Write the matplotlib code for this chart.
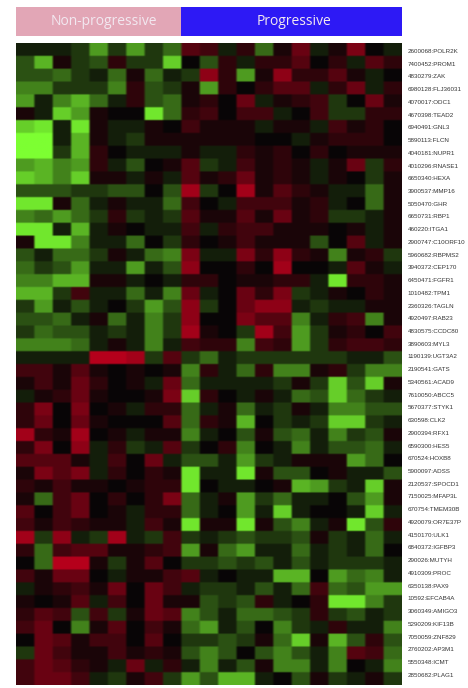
import matplotlib
matplotlib.use("Agg")
import matplotlib.pyplot as plt
import numpy as np
from matplotlib.colors import LinearSegmentedColormap

group_names = ["Non-progressive", "Progressive"]
group_sizes = [9, 12]
group_colors = ["#E2A6B6", "#2D19F5"]

gene_labels = [
    "2600068:POLR2K", "7400452:PROM1", "4830279:ZAK", "6980128:FLJ36031", "4070017:ODC1",
    "4670398:TEAD2", "6940491:GNL3", "5890113:FLCN", "4040181:NUPR1", "4010296:RNASE1",
    "6650340:HEXA", "3900537:MMP16", "5050470:GHR", "6650731:RBP1", "460220:ITGA1",
    "2900747:C10ORF10", "5960682:RBPMS2", "3940372:CEP170", "6450471:FGFR1", "1010482:TPM1",
    "2360326:TAGLN", "4920497:RAB23", "4830575:CCDC80", "3890603:MYL3", "1190139:UGT3A2",
    "2190541:GATS", "5340561:ACAD9", "7610050:ABCC5", "5670377:STYK1", "630598:CLK2",
    "2900394:RFX1", "6590300:HES5", "670524:HOXB8", "5900097:ADSS", "2120537:SPOCD1",
    "7150025:MFAP3L", "670754:TMEM30B", "4920079:OR7E37P", "4150170:ULK1", "6840372:IGFBP3",
    "290026:MUTYH", "4910309:PROC", "6350138:PAX9", "10592:EFCAB4A", "3060349:AMIGO3",
    "5290209:KIF13B", "7050059:ZNF829", "2760202:AP3M1", "5550348:ICMT", "2850682:PLAG1",
]

# Expression: negative = green, positive = red, one row per gene
expression = [
    [-1,-1,-1,-2,-6,-2,-6,-2,-4, 4,3,-1,2,-4,1,5,-1,1,6,0,-1],
    [-3,-7,1,-2,-3,2,-2,-2,-8, 0,-3,2,-1,2,2,4,0,2,-1,4,2],
    [-3,-3,-4,-2,-1,-4,1,-4,-1, -2,7,2,-6,1,7,2,2,4,1,-1,0],
    [-5,-5,-2,-2,-2,-5,2,-3,-2, 1,-6,2,0,2,4,4,-1,2,5,-1,2],
    [-6,-1,-5,-7,-4,-1,2,-3,-4, 1,2,0,5,-1,1,2,3,-2,0,5,1],
    [1,-1,-8,-6,1,0,0,-9,-4, 2,3,0,3,3,-1,0,3,-2,-2,2,2],
    [-8,-9,-1,-9,1,-1,-1,1,0, 3,1,1,1,-1,1,1,-1,3,1,2,0],
    [-10,-10,-1,-7,1,-1,-2,1,1, 1,1,1,1,0,0,-1,1,2,2,2,0],
    [-10,-10,-2,-7,2,0,-1,-1,-1, 1,-1,-1,2,1,2,0,2,0,1,1,1],
    [-6,-7,-5,-6,2,-1,-3,0,1, 4,-2,-1,3,1,2,1,-1,1,5,-2,2],
    [-8,-7,-5,-8,1,1,-1,1,-1, 4,1,2,5,1,2,1,-1,1,0,-2,1],
    [-3,-3,-3,-2,-2,-3,-3,0,-3, 8,-2,0,8,1,4,2,1,-1,-1,-4,1],
    [-9,-9,1,-4,-1,1,-1,-1,-4, 3,0,-1,3,3,3,1,2,-1,0,-4,1],
    [-5,-4,-6,-4,-2,2,-2,-1,-2, 4,1,1,4,1,5,1,2,-2,-2,-1,1],
    [-9,-9,-1,-7,-1,1,0,-1,-1, 3,-1,2,3,3,1,1,1,0,1,-1,1],
    [1,-9,-9,-5,-1,-1,-4,0,-2, 2,0,1,3,1,1,1,-3,0,4,-1,1],
    [-3,-1,-4,-4,-2,1,-1,-4,-5, 6,-1,-1,6,2,7,2,1,-5,1,2,-2],
    [-4,-2,-3,-6,-1,-1,-6,-1,-3, 7,0,0,2,0,8,0,0,-1,4,1,-1],
    [-5,-5,-7,-7,1,1,-1,0,-1, 2,2,0,1,1,2,2,-1,-9,2,2,1],
    [-7,-7,-2,3,-1,-1,-4,-1,-5, 5,-1,0,5,2,6,-2,-1,1,0,2,1],
    [-2,-6,-1,-3,-1,0,-2,-6,-3, 7,-2,0,5,7,7,-1,-2,-1,-1,1,1],
    [-3,-3,-4,-1,1,-4,-1,-5,-2, 7,0,0,6,4,4,-5,-1,2,3,-5,1],
    [-2,-4,-3,-3,-1,-2,-1,-5,-2, 8,1,0,-2,8,3,-6,-2,1,2,0,3],
    [-5,-5,-5,-4,-1,1,-1,-5,-1, 3,2,2,-5,3,2,-6,-2,2,3,3,2],
    [-1,-1,-1,-1,9,9,8,-2,4, -2,-4,-1,-2,-2,-2,-2,-2,-2,-1,-1,-3],
    [3,3,1,4,1,0,1,0,1, -5,2,-1,-4,2,-5,-5,1,2,-2,-5,-5],
    [1,3,1,5,2,0,1,-1,5, -4,-1,-1,-1,-1,-2,1,-2,-8,-3,-8,1],
    [-1,1,2,5,1,0,0,1,6, -8,2,0,-1,1,-1,-4,-3,-8,-4,-2,-1],
    [2,6,0,6,0,1,-1,2,2, -4,-1,1,-4,-1,-2,1,-1,-5,-5,-3,-3],
    [2,5,0,5,1,0,0,0,4, -4,2,1,-7,0,-2,-1,-2,-8,-8,-2,-1],
    [8,2,1,8,0,1,-1,1,1, -5,-1,0,-3,1,-3,-4,-1,-5,-2,-3,1],
    [2,6,0,7,-1,2,-2,-1,4, -2,0,2,-5,0,-1,-5,-1,-3,-3,-4,-1],
    [4,4,4,1,-1,3,0,5,-1, -3,-3,-1,-6,-2,-1,1,1,1,-6,-4,0],
    [1,6,4,6,-1,2,0,2,1, -9,-1,-1,-9,1,-3,-3,0,1,-1,-1,-3],
    [2,1,3,1,1,0,1,2,2, -9,0,-1,-1,0,1,-7,-6,-2,-1,-8,1],
    [1,-4,3,5,0,2,0,2,6, -4,-1,1,-6,-2,-4,-1,-1,0,-3,-6,1],
    [4,0,3,5,0,1,-1,2,2, -4,-1,0,-6,-1,-8,-1,0,0,-1,-8,-1],
    [3,1,3,2,1,1,-1,3,1, -9,1,1,-9,1,-3,-5,-1,1,-9,-3,2],
    [8,-2,7,-1,-2,8,-1,-2,3, -2,-1,-2,-3,-2,-2,-3,1,-2,-1,-4,-1],
    [2,-4,3,4,4,1,1,2,3, -6,1,-4,-6,-1,-1,-4,-1,-2,-1,-4,0],
    [0,-4,9,9,1,-2,1,4,0, -2,-2,-3,-2,-3,-1,-3,-1,-2,-2,-2,-1],
    [3,1,5,5,0,-1,1,1,3, 4,-1,0,-1,-1,-7,-7,0,-6,-4,-5,-1],
    [-1,1,2,3,1,5,0,5,3, -1,-2,-2,-1,-3,-1,-4,3,-4,-3,-6,-6],
    [1,0,1,4,-1,3,0,5,1, 1,-3,-2,-3,2,-1,0,2,-9,-9,-5,-2],
    [2,4,3,-3,3,-2,1,5,4, -5,-3,-1,-4,-4,-3,-2,2,-2,-3,-1,-2],
    [3,5,0,-5,1,4,0,3,1, -4,-6,-1,-3,0,-5,-2,-1,2,-1,-1,-5],
    [0,5,4,1,3,3,0,4,0, -2,-2,-3,-2,1,-4,-8,1,-7,-3,2,-3],
    [-2,5,3,1,1,3,1,2,1, -3,-5,-3,0,-3,-5,-3,-1,-5,4,3,-4],
    [3,5,4,2,1,-1,5,-1,2, -1,-5,-1,-3,1,-5,-5,-1,-5,0,-1,-5],
    [3,5,5,3,-1,-2,1,3,-2, -6,-3,-7,-7,-1,0,-3,1,-2,-1,1,-2],
]

W, H = 468, 688
fig = plt.figure(figsize=(W / 100, H / 100), dpi=100, facecolor="white")


def px_axes(x0, y0, x1, y1):
    return fig.add_axes([x0 / W, 1 - y1 / H, (x1 - x0) / W, (y1 - y0) / H])


cmap = LinearSegmentedColormap.from_list(
    "green_black_red", [(0.0, "#7DFF32"), (0.5, "#080606"), (1.0, "#C8001E")]
)

ax = px_axes(16, 43, 402, 685)
data = np.array(expression, dtype=float)
nrows, ncols = data.shape
soft = 5  # each cell is repeated so that a slight smoothing softens only its edges
ax.imshow(
    np.repeat(np.repeat(data, soft, axis=0), soft, axis=1),
    cmap=cmap, vmin=-10, vmax=10, aspect="auto",
    extent=(-0.5, ncols - 0.5, nrows - 0.5, -0.5),
    interpolation="hanning", interpolation_stage="rgba",
)
ax.set_xticks([])
ax.yaxis.tick_right()
ax.set_yticks(np.arange(nrows) * 0.9914 + 0.12)
ax.set_yticklabels(gene_labels, family="Liberation Sans", fontsize=4.5, color="#333333")
ax.tick_params(axis="y", length=0, pad=4.2)
for s in ax.spines.values():
    s.set_visible(False)

hdr = px_axes(16, 7, 402, 36)
left = 0
name_shifts = [0.3, 0.1]
for name, size, color, shift in zip(group_names, group_sizes, group_colors, name_shifts):
    hdr.barh(0, size, left=left, height=1, color=color)
    hdr.text(left + size / 2 + shift, 0, name, color="#F2E8F0", fontsize=10, family="Open Sans",
             ha="center", va="center")
    left += size
hdr.set_xlim(0, sum(group_sizes))
hdr.set_ylim(-0.5, 0.5)
hdr.axis("off")

fig.savefig("out.png", dpi=100, facecolor="white")
